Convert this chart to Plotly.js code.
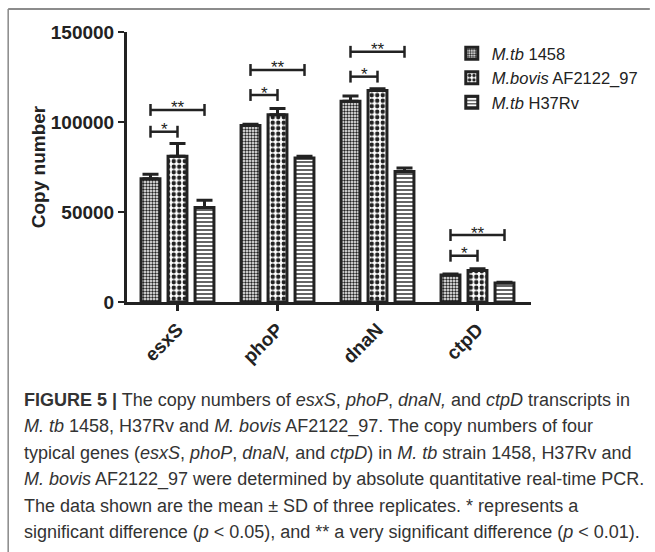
<!DOCTYPE html>
<html><head><meta charset="utf-8">
<script src="https://cdn.plot.ly/plotly-3.0.1.min.js"></script>
<style>html,body{margin:0;padding:0;background:#fff;} #chart{width:655px;height:552px;}</style>
</head><body><div id="chart"></div>
<script>
// ---- data ----
const genes = ['esxS', 'phoP', 'dnaN', 'ctpD'];
const seriesNames = ['<i>M.tb</i> 1458', '<i>M.bovis</i> AF2122_97', '<i>M.tb</i> H37Rv'];
const mtb1458 = [68500, 98000, 111500, 15000];
const mbovis = [81000, 104000, 117500, 17500];
const h37rv = [52500, 80000, 72500, 10500];
const sd1458 = [2500, 800, 3000, 500];
const sdBovis = [7000, 3500, 1000, 1000];
const sdH37 = [4000, 1000, 2000, 500];
const sigSingle = [94600, 115000, 125200, 25700];   // "*"  : 1458 vs bovis
const sigDouble = [106700, 128900, 139000, 37200];  // "**" : 1458 vs H37Rv
const yTicks = [0, 50000, 100000, 150000];
const captionLines = [
  '<b>FIGURE 5 |</b> The copy numbers of <i>esxS</i>, <i>phoP</i>, <i>dnaN,</i> and <i>ctpD</i> transcripts in',
  '<i>M. tb</i> 1458, H37Rv and <i>M. bovis</i> AF2122_97. The copy numbers of four',
  'typical genes (<i>esxS</i>, <i>phoP</i>, <i>dnaN,</i> and <i>ctpD</i>) in <i>M. tb</i> strain 1458, H37Rv and',
  '<i>M. bovis</i> AF2122_97 were determined by absolute quantitative real-time PCR.',
  'The data shown are the mean ± SD of three replicates. * represents a',
  'significant difference (<i>p</i> &lt; 0.05), and ** a very significant difference (<i>p</i> &lt; 0.01).'
];

// ---- geometry ----
const W = 655, H = 552;
const M = {l: 127, r: 120, t: 32, b: 250};
const pw = W - M.l - M.r, ph = H - M.t - M.b;
const px2x = p => (p - M.l) / pw;
const px2y = p => (H - M.b - p) / ph;
const bargap = 0.19, bargroupgap = 0.3;
const slot = (1 - bargap) / 3;
const idx = genes.map((g, i) => i);
const dark = '#222';
const font = 'Liberation Sans, Arial, sans-serif';

const patterns = [
  {shape: '.', size: 3, solidity: 0.5, fgcolor: dark, bgcolor: '#fff'},
  {shape: '.', size: 5.5, solidity: 0.5, fgcolor: dark, bgcolor: '#fff'},
  {shape: '-', size: 4, solidity: 0.35, fgcolor: dark, bgcolor: '#fff'}
];
const vals = [mtb1458, mbovis, h37rv];
const sds = [sd1458, sdBovis, sdH37];

const traces = vals.map((v, k) => ({
  type: 'bar', x: idx, y: v, name: seriesNames[k],
  marker: {color: '#fff', line: {color: dark, width: 3}, pattern: patterns[k]},
  error_y: {type: 'data', symmetric: false, array: sds[k], arrayminus: v.map(() => 0),
            color: dark, thickness: 3, width: 8},
  hoverinfo: 'skip'
}));

// bar k (1-based) centre within group i: i + (k - 2) * slot
const barX = (i, k) => i + (k - 2) * slot;
const tickH = 3300;
function bracket(heights, kEnd) {
  const xs = [], ys = [];
  heights.forEach((h, i) => {
    const x1 = barX(i, 1), x2 = barX(i, kEnd);
    xs.push(x1, x1, null, x1, x2, null, x2, x2, null);
    ys.push(h - tickH, h + tickH, null, h, h, null, h - tickH, h + tickH, null);
  });
  return {type: 'scatter', mode: 'lines', x: xs, y: ys, showlegend: false,
          line: {color: dark, width: 2.5}, hoverinfo: 'skip'};
}
traces.push(bracket(sigSingle, 2));
traces.push(bracket(sigDouble, 3));

const starAnn = (heights, kEnd, txt) => heights.map((h, i) => ({
  xref: 'x', yref: 'y', x: (barX(i, 1) + barX(i, kEnd)) / 2, y: h,
  yanchor: 'middle', yshift: 2, showarrow: false, text: txt,
  font: {family: font, size: 17, color: dark}
}));

const captionAnn = captionLines.map((t, i) => ({
  xref: 'paper', yref: 'paper', x: px2x(21), y: px2y(400 + 26.4 * i),
  xanchor: 'left', yanchor: 'middle', align: 'left', showarrow: false, text: t,
  font: {family: font, size: 18, color: '#333'}
}));

const layout = {
  width: W, height: H, margin: M, paper_bgcolor: '#fff', plot_bgcolor: '#fff',
  barmode: 'group', bargap: bargap, bargroupgap: bargroupgap,
  showlegend: true,
  legend: {x: px2x(455), y: px2y(36), xanchor: 'left', yanchor: 'top',
           font: {family: font, size: 16.5, color: dark}, bgcolor: 'rgba(0,0,0,0)',
           traceorder: 'normal', itemwidth: 30},
  xaxis: {range: [-0.505, 3.535], tickvals: idx, ticktext: genes, tickangle: -45,
          ticks: 'outside', ticklen: 6, tickwidth: 2.5, tickcolor: dark,
          showline: true, linecolor: dark, linewidth: 3, showgrid: false, zeroline: false,
          tickfont: {family: font, size: 19, color: dark, weight: 'bold'}, fixedrange: true},
  yaxis: {range: [0, 150000], tickvals: yTicks, ticktext: yTicks.map(String),
          ticks: 'outside', ticklen: 6, tickwidth: 2.5, tickcolor: dark,
          showline: true, linecolor: dark, linewidth: 3, showgrid: false, zeroline: false,
          tickfont: {family: font, size: 19, color: dark, weight: 'bold'},
          title: {text: 'Copy number', font: {family: font, size: 19, color: dark, weight: 'bold'}},
          fixedrange: true},
  shapes: [
    {type: 'line', xref: 'paper', yref: 'paper', x0: px2x(7), x1: px2x(W), y0: px2y(9), y1: px2y(9),
     line: {color: '#666', width: 1.5}},
    {type: 'line', xref: 'paper', yref: 'paper', x0: px2x(7), x1: px2x(7), y0: px2y(9), y1: px2y(H),
     line: {color: '#888', width: 1.5}}
  ],
  annotations: starAnn(sigSingle, 2, '*').concat(starAnn(sigDouble, 3, '**'), captionAnn)
};

Plotly.newPlot('chart', traces, layout, {staticPlot: true, displayModeBar: false});
</script>
</body></html>
